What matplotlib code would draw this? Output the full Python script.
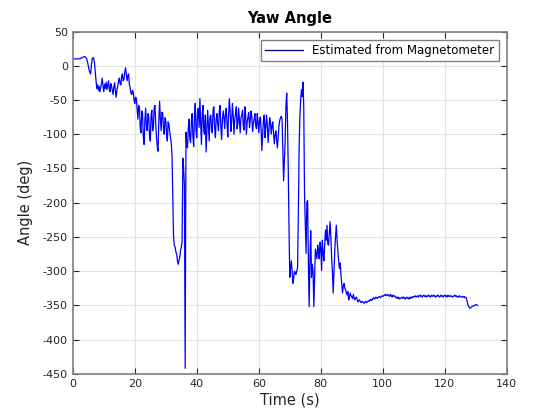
import numpy as np
import matplotlib
matplotlib.use("Agg")
import matplotlib.pyplot as plt

# yaw angle from magnetometer, one value every DT seconds
DT = 0.25
yaw = [
    10, 10, 10, 10, 10, 10, 10, 10,                          # 0 - 2 s
    10, 10.5, 10.5, 11, 11.5, 12.5, 13, 13.5,                # 2 - 4
    13, 12, 10, 5, 0, -6, -10, -12,                          # 4 - 6
    0, 10, 12, 10, 4, -10, -22, -33,                         # 6 - 8
    -28, -36, -30, -38, -32, -26, -18, -30,                  # 8 - 10
    -38, -27, -33, -24, -35, -28, -22, -34,                  # 10 - 12
    -38, -26, -30, -36, -42, -30, -25, -38,                  # 12 - 14
    -46, -34, -30, -22, -18, -26, -28, -16,                  # 14 - 16
    -12, -22, -20, -10, -3, -12, -22, -14,                   # 16 - 18
    -12, -28, -32, -40, -42, -36, -38, -50,                  # 18 - 20
    -55, -46, -48, -62, -78, -58, -62, -90,                  # 20 - 22
    -98, -66, -70, -104, -115, -80, -62, -88,                # 22 - 24
    -95, -70, -75, -102, -110, -72, -65, -95,                # 24 - 26
    -90, -62, -58, -85, -105, -118, -125, -80,               # 26 - 28
    -52, -78, -95, -68, -70, -92, -100, -76,                 # 28 - 30
    -80, -100, -110, -82, -85, -96, -105, -112,              # 30 - 32
    -130, -190, -250, -262, -265, -272, -275, -285,          # 32 - 34
    -290, -284, -280, -270, -265, -258, -135, -150,          # 34 - 36
    -175, -442, -97, -115, -120, -92, -78, -108,             # 36 - 38
    -112, -82, -70, -104, -118, -75, -55, -95,               # 38 - 40
    -105, -66, -62, -90, -48, -85, -115, -70,                # 40 - 42
    -58, -96, -100, -72, -126, -95, -65, -88,                # 42 - 44
    -110, -75, -72, -92, -98, -64, -60, -90,                 # 44 - 46
    -105, -78, -70, -85, -95, -66, -58, -88,                 # 46 - 48
    -108, -80, -66, -75, -92, -70, -62, -85,                 # 48 - 50
    -104, -72, -48, -66, -96, -80, -55, -74,                 # 50 - 52
    -100, -78, -70, -60, -92, -84, -62, -80,                 # 52 - 54
    -98, -76, -72, -65, -88, -94, -60, -72,                  # 54 - 56
    -100, -82, -75, -68, -90, -80, -66, -74,                 # 56 - 58
    -96, -84, -78, -70, -88, -92, -70, -82,                  # 58 - 60
    -98, -80, -75, -95, -124, -98, -80, -72,                 # 60 - 62
    -105, -90, -72, -86, -112, -95, -76, -82,                # 62 - 64
    -100, -88, -82, -98, -114, -102, -95, -108,              # 64 - 66
    -120, -104, -88, -80, -76, -74, -78, -120,               # 66 - 68
    -168, -140, -110, -60, -40, -80, -150, -240,             # 68 - 70
    -309, -295, -285, -300, -318, -310, -300, -302,          # 70 - 72
    -305, -300, -295, -220, -120, -75, -50, -35,             # 72 - 74
    -45, -24, -60, -187, -230, -274, -200, -197,             # 74 - 76
    -290, -352, -280, -241, -309, -290, -300, -352,          # 76 - 78
    -310, -268, -275, -282, -262, -270, -282, -258,          # 78 - 80
    -265, -299, -255, -275, -285, -262, -240, -255,          # 80 - 82
    -233, -260, -262, -245, -228, -250, -282, -300,          # 82 - 84
    -332, -300, -270, -250, -233, -255, -270, -285,          # 84 - 86
    -296, -288, -305, -318, -332, -322, -318, -325,          # 86 - 88
    -327, -332, -335, -330, -342, -338, -332, -336,          # 88 - 90
    -338, -340, -334, -340, -342, -339, -338, -342,          # 90 - 92
    -345, -343, -342, -345, -346, -344, -345, -346,          # 92 - 94
    -347, -345, -344, -346, -345, -344, -343, -344,          # 94 - 96
    -341, -342, -343, -340, -339, -341, -340, -338,          # 96 - 98
    -339, -340, -338, -337, -338, -339, -337, -336,          # 98 - 100
    -337, -336, -335, -334, -336, -335, -334, -336,          # 100 - 102
    -335, -337, -334, -336, -338, -335, -337, -336,          # 102 - 104
    -337, -339, -338, -340, -338, -341, -339, -340,          # 104 - 106
    -339, -338, -340, -338, -339, -341, -339, -338,          # 106 - 108
    -340, -339, -341, -338, -340, -338, -339, -337,          # 108 - 110
    -338, -337, -336, -338, -337, -336, -338, -336,          # 110 - 112
    -335, -337, -336, -338, -336, -335, -337, -336,          # 112 - 114
    -338, -336, -337, -335, -336, -338, -337, -335,          # 114 - 116
    -337, -336, -335, -337, -338, -336, -337, -335,          # 116 - 118
    -336, -338, -337, -335, -337, -336, -338, -336,          # 118 - 120
    -335, -337, -336, -338, -335, -337, -336, -337,          # 120 - 122
    -336, -337, -338, -337, -336, -335, -337, -336,          # 122 - 124
    -338, -337, -338, -336, -337, -338, -338, -337,          # 124 - 126
    -338, -337, -339, -338, -340, -345, -350, -352,          # 126 - 128
    -354, -354, -353, -352, -351, -351, -350, -350,          # 128 - 130
    -349, -349, -350,                                        # 130 - 130.5
]
t = np.arange(len(yaw)) * DT

xticks = [0, 20, 40, 60, 80, 100, 120, 140]
yticks = [-450, -400, -350, -300, -250, -200, -150, -100, -50, 0, 50]

plt.rcParams['font.family'] = ['DejaVu Sans']
plt.rcParams['axes.unicode_minus'] = False

fig = plt.figure(figsize=(5.6, 4.2), dpi=100)
ax = fig.add_axes([0.13, 0.11, 0.775, 0.815])
ax.plot(t, yaw, color='#0000ff', linewidth=0.9, label='Estimated from Magnetometer')

ax.set_xlim(0, 140)
ax.set_ylim(-450, 50)
ax.set_xticks(xticks)
ax.set_yticks(yticks)
ax.grid(True, color='#e3e3e3', linewidth=0.8)
ax.set_axisbelow(True)
ax.tick_params(direction='in', length=4, width=0.8, top=True, right=True,
               labelsize=8, colors='#262626')
for s in ax.spines.values():
    s.set_color('#808080')
    s.set_linewidth(1.2)

ax.set_title('Yaw Angle', fontsize=10.5, fontweight='bold', pad=6)
ax.set_xlabel('Time (s)', fontsize=10.5, color='#262626', labelpad=3)
ax.set_ylabel('Angle (deg)', fontsize=10.5, color='#262626', labelpad=7)

leg = ax.legend(loc='upper right', fontsize=8.5, fancybox=False, framealpha=1,
                edgecolor='#808080', handlelength=3.2, borderpad=0.35,
                borderaxespad=0.7)
leg.get_frame().set_linewidth(1.0)
for line in leg.get_lines():
    line.set_color('#00007f')

fig.savefig('out.png', dpi=100)
